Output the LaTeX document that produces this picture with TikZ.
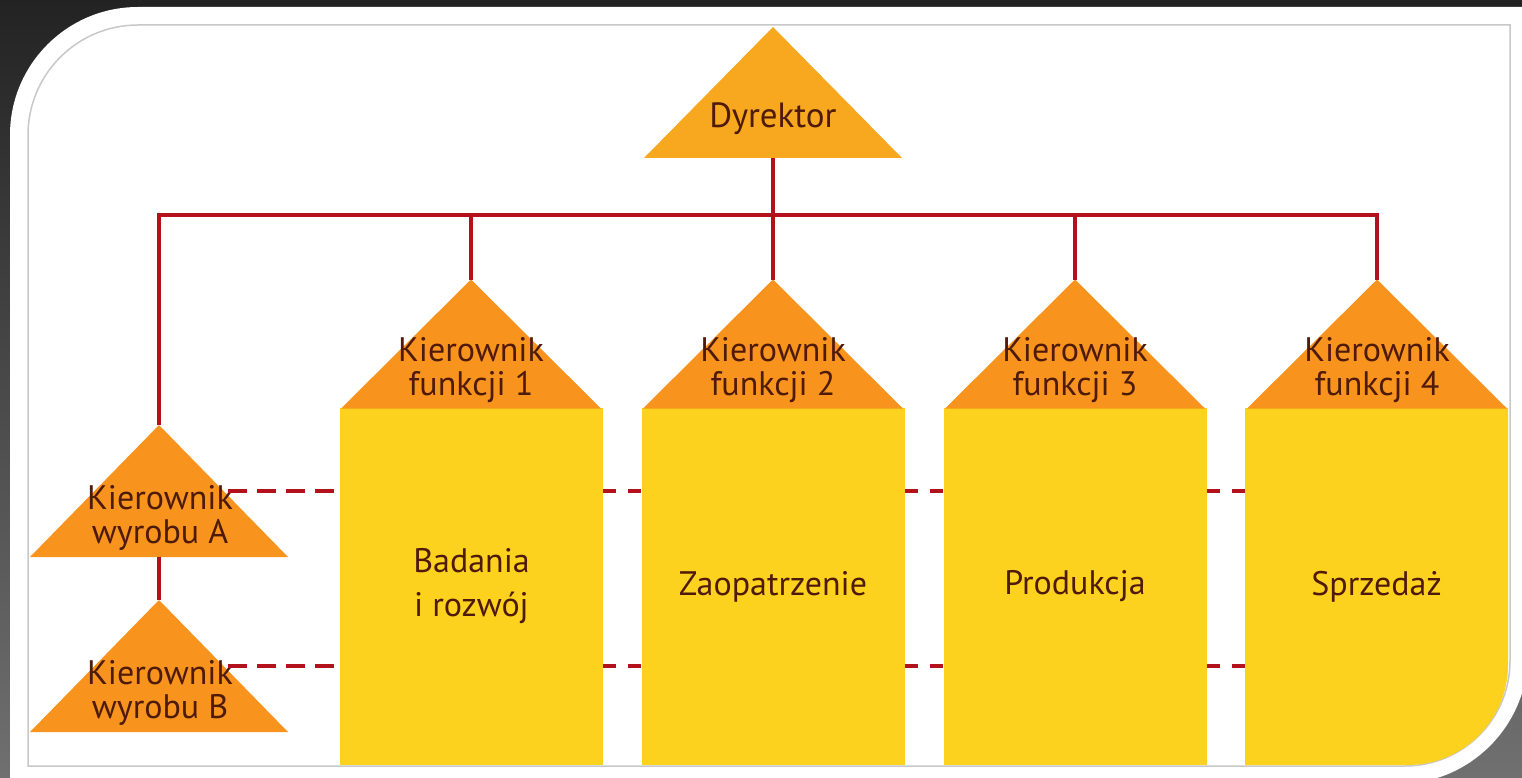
\documentclass[tikz,border=0pt]{standalone}
\usepackage{fontspec}
\setmainfont{PT Sans}
\definecolor{bgTop}{HTML}{232323}
\definecolor{bgBot}{HTML}{707070}
\definecolor{frameGray}{HTML}{C8C8C8}
\definecolor{linkRed}{HTML}{B3121C}
\definecolor{dirOrange}{HTML}{F7A81F}
\definecolor{mgrOrange}{HTML}{F8941E}
\definecolor{deptYellow}{HTML}{FDD21F}
\definecolor{inkBrown}{HTML}{4E1A0A}
\tikzset{
  tri/.style={inner sep=0pt, outer sep=0pt, minimum width=260pt, minimum height=129pt,
    path picture={\fill[#1] (path picture bounding box.south west) -- (path picture bounding box.north)
      -- (path picture bounding box.south east) -- cycle;}},
  lbl/.style={text=inkBrown, font=\fontsize{34}{34}\selectfont, align=center, inner sep=0pt},
  dept/.style={inner sep=0pt, outer sep=0pt, minimum width=263pt, minimum height=357pt,
    text=inkBrown, font=\fontsize{34}{44}\selectfont, align=center},
  link/.style={draw=linkRed, line width=4pt},
  dotted link/.style={draw=linkRed, line width=4pt},
}
\begin{document}
\begin{tikzpicture}[x=1pt, y=-1pt]
\useasboundingbox (0,0) rectangle (1522,778);
% backdrop and panel
\shade[top color=bgTop, bottom color=bgBot] (0,0) rectangle (1522,778);
\fill[white] (10,790) -- (10,135) arc[start angle=180, end angle=90, radius=128pt]
  -- (1528,7) -- (1528,654) arc[start angle=0, end angle=-90, radius=130pt] -- cycle;
\draw[frameGray, line width=1.5pt] (28,766) -- (28,135) arc[start angle=180, end angle=90, radius=110pt]
  -- (1510,25) -- (1510,661) arc[start angle=0, end angle=-90, radius=105pt] -- cycle;

% departments
\node[dept, fill=deptYellow] (b1) at (471.5,586.5) {Badania\\i rozwój};
\node[dept, fill=deptYellow] (b2) at (773,586.5) {Zaopatrzenie};
\node[dept, fill=deptYellow] (b3) at (1075,586.5) {Produkcja};
\node[dept, path picture={\fill[deptYellow] (path picture bounding box.north west)
    -- (path picture bounding box.north east) -- ([yshift=100pt]path picture bounding box.south east)
    arc[start angle=0, end angle=-90, radius=100pt] -- (path picture bounding box.south west) -- cycle;}]
  (b4) at (1376.5,586.5) {Sprzedaż};

% triangles
\node[tri=dirOrange, minimum width=258pt, minimum height=131pt] (dyr) at (773,92.5) {};
\node[tri=mgrOrange] (k1) at (471,344) {};
\node[tri=mgrOrange] (k2) at (773,344) {};
\node[tri=mgrOrange] (k3) at (1075,344) {};
\node[tri=mgrOrange] (k4) at (1377,344) {};
\node[tri=mgrOrange, minimum width=258pt, minimum height=132pt] (kA) at (159,491) {};
\node[tri=mgrOrange, minimum width=258pt, minimum height=132pt] (kB) at (159,666) {};

% solid connectors
\coordinate (bus) at (0,215);
\draw[link] (dyr.south) -- (dyr.south |- bus);
\draw[link] (kA.north) -- (kA.north |- bus) -- (k4.north |- bus) -- (k4.north);
\draw[link] (k1.north) -- (k1.north |- bus);
\draw[link] (k2.north) -- (k2.north |- bus);
\draw[link] (k3.north) -- (k3.north |- bus);
\draw[link] (kA.south) -- (kB.north);

% labels (base anchor sits on the last line)
\node[lbl, anchor=base] (tDyr) at (773,128) {\fontsize{35}{35}\selectfont Dyrektor};
\node[lbl, anchor=base] (t1) at (471,395) {Kierownik\\funkcji 1};
\node[lbl, anchor=base] (t2) at (773,395) {Kierownik\\funkcji 2};
\node[lbl, anchor=base] (t3) at (1075,395) {Kierownik\\funkcji 3};
\node[lbl, anchor=base] (t4) at (1377,395) {Kierownik\\funkcji 4};
\node[lbl, anchor=base] (tA) at (160,543) {Kierownik\\wyrobu A};
\node[lbl, anchor=base] (tB) at (160,718) {Kierownik\\wyrobu B};

% dashed connectors, laid over the product manager labels
\foreach \p in {kA, kB}{
  \draw[dotted link, dash pattern=on 19pt off 10pt] ([xshift=69pt]\p.center) -- (b1.west |- \p.center);
  \draw[dotted link, dash pattern=on 13pt off 12pt] (b1.east |- \p.center) -- (b2.west |- \p.center);
  \draw[dotted link, dash pattern=on 13pt off 12pt] (b2.east |- \p.center) -- (b3.west |- \p.center);
  \draw[dotted link, dash pattern=on 13pt off 12pt] (b3.east |- \p.center) -- (b4.west |- \p.center);
}
\end{tikzpicture}
\end{document}
